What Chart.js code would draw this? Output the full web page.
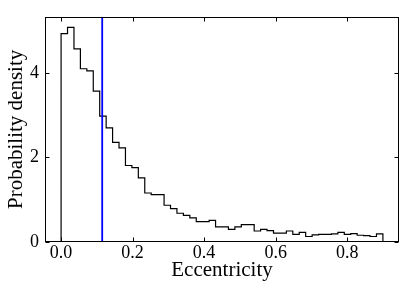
<!DOCTYPE html>
<html><head><meta charset="utf-8">
<script src="https://cdn.jsdelivr.net/npm/chart.js@4/dist/chart.umd.min.js"></script>
<style>html,body{margin:0;padding:0;background:#fff;} canvas{display:block;}</style>
</head><body>
<canvas id="c" width="407" height="296"></canvas>
<script>
// Histogram: 50 bins of width 0.018 from 0 to 0.9
const binStart = 0.0;
const binWidth = 0.018;
const density = [4.93,5.08,4.57,4.10,4.05,3.57,2.98,2.70,2.36,2.23,
                 1.81,1.76,1.52,1.16,1.12,1.12,0.87,0.79,0.68,0.63,
                 0.57,0.48,0.48,0.51,0.36,0.36,0.30,0.36,0.41,0.41,
                 0.26,0.30,0.27,0.21,0.21,0.26,0.18,0.23,0.13,0.17,
                 0.18,0.18,0.19,0.23,0.18,0.20,0.16,0.15,0.13,0.19];
const markerX = 0.115;
const xTicks = [0.0, 0.2, 0.4, 0.6, 0.8];
const yTicks = [0, 2, 4];
const xRange = [-0.045, 0.945];
const yRange = [0, 5.33];
const xLabel = 'Eccentricity';
const yLabel = 'Probability density';

const FONT = 'Liberation Serif';

// step outline points: each point is the right edge of a bin with that bin's height
const histPts = [{x: binStart, y: 0}];
density.forEach((v, i) => histPts.push({x: binStart + (i + 1) * binWidth, y: v}));
histPts.push({x: binStart + density.length * binWidth, y: 0});

const frame = {
  id: 'frame',
  afterDraw(chart) {
    const {ctx, chartArea: a, scales: {x, y}} = chart;
    const L = Math.round(a.left) + 0.5, R = Math.round(a.right) - 0.5;
    const T = Math.round(a.top) + 0.5, B = Math.round(a.bottom) - 0.5;
    ctx.save();
    ctx.strokeStyle = '#000';
    ctx.lineWidth = 1;
    ctx.strokeRect(L, T, R - L, B - T);
    const tl = 4;
    ctx.beginPath();
    xTicks.forEach(v => {
      const px = Math.round(x.getPixelForValue(v)) + 0.5;
      ctx.moveTo(px, B); ctx.lineTo(px, B - tl);
      ctx.moveTo(px, T); ctx.lineTo(px, T + tl);
    });
    yTicks.forEach(v => {
      const py = Math.round(y.getPixelForValue(v)) + 0.5;
      ctx.moveTo(L, py); ctx.lineTo(L + tl, py);
      ctx.moveTo(R, py); ctx.lineTo(R - tl, py);
    });
    ctx.stroke();
    ctx.restore();
  }
};

new Chart(document.getElementById('c'), {
  type: 'line',
  data: {
    datasets: [
      {
        data: [{x: markerX, y: yRange[0]}, {x: markerX, y: yRange[1]}],
        borderColor: '#0000ff', borderWidth: 1.8, pointRadius: 0, fill: false
      },
      {
        data: histPts, stepped: 'after',
        borderColor: '#000', borderWidth: 1.2, pointRadius: 0, fill: false
      }
    ]
  },
  options: {
    responsive: false,
    animation: false,
    devicePixelRatio: 1,
    layout: {padding: {left: 0, right: 8, top: 7, bottom: 0}},
    plugins: {legend: {display: false}, tooltip: {enabled: false}},
    scales: {
      x: {
        type: 'linear', min: xRange[0], max: xRange[1],
        afterBuildTicks: s => { s.ticks = xTicks.map(v => ({value: v})); },
        ticks: {callback: v => Number(v).toFixed(1), color: '#000',
                font: {family: FONT, size: 18}, padding: 0, maxRotation: 0, autoSkip: false},
        grid: {display: false, drawTicks: false},
        border: {display: false},
        title: {display: true, text: xLabel, color: '#000',
                font: {family: FONT, size: 21}, padding: {top: 0, bottom: 13}},
        afterFit: s => { s.height = 54; }
      },
      y: {
        type: 'linear', min: yRange[0], max: yRange[1],
        afterBuildTicks: s => { s.ticks = yTicks.map(v => ({value: v})); },
        ticks: {callback: v => String(v), color: '#000',
                font: {family: FONT, size: 18}, padding: 6, autoSkip: false},
        grid: {display: false, drawTicks: false},
        border: {display: false},
        title: {display: true, text: yLabel, color: '#000',
                font: {family: FONT, size: 21}, padding: {top: 4, bottom: 0}},
        afterFit: s => { s.width = 45; }
      }
    }
  },
  plugins: [frame]
});
</script>
</body></html>
